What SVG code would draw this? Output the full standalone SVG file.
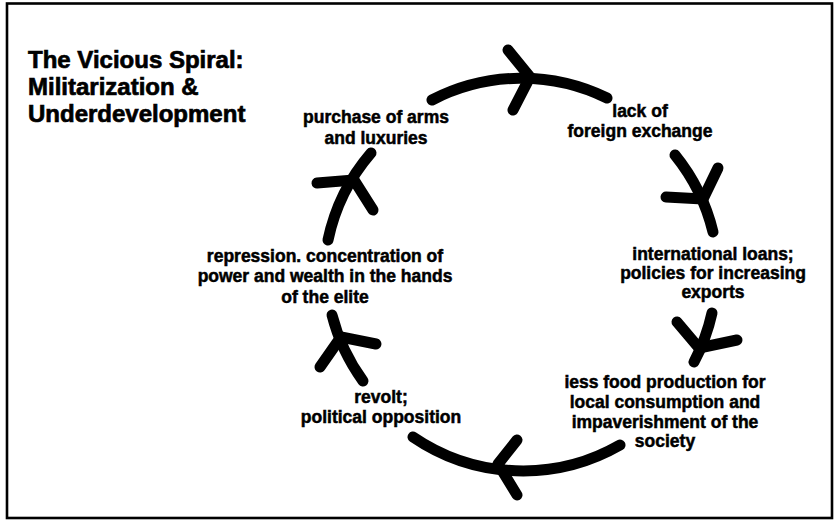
<svg xmlns="http://www.w3.org/2000/svg" width="835" height="523" viewBox="0 0 835 523">
<style>
.bg{fill:#fff}
.frame{fill:none;stroke:#000;stroke-width:2.6}
.title{font-family:"Liberation Sans",Arial,sans-serif;font-weight:bold;font-size:24px;fill:#000;stroke:#000;stroke-width:0.7}
.lbl{font-family:"Liberation Sans",Arial,sans-serif;font-weight:bold;font-size:17.5px;fill:#000;stroke:#000;stroke-width:0.5;text-anchor:middle}
.arc{fill:none;stroke:#000;stroke-width:11;stroke-linecap:round}
.chev{fill:none;stroke:#000;stroke-width:11;stroke-linecap:round;stroke-linejoin:round}
</style>
<rect class="bg" x="0" y="0" width="835" height="523"/>
<rect class="frame" x="7" y="3.5" width="825" height="514.5"/>
<g id="title">
<text class="title" x="28" y="68">The Vicious Spiral:</text>
<text class="title" x="28" y="95">Militarization &amp;</text>
<text class="title" x="28" y="122">Underdevelopment</text>
</g>
<g id="n-purchase">
<text class="lbl" x="376" y="123">purchase of arms</text>
<text class="lbl" x="376" y="144">and luxuries</text>
</g>
<g id="n-lack">
<text class="lbl" x="640" y="117">lack of</text>
<text class="lbl" x="640" y="137">foreign exchange</text>
</g>
<g id="n-loans">
<text class="lbl" x="713" y="260">international loans;</text>
<text class="lbl" x="713" y="279">policies for increasing</text>
<text class="lbl" x="713" y="298">exports</text>
</g>
<g id="n-food">
<text class="lbl" x="665" y="388">iess food production for</text>
<text class="lbl" x="665" y="408">local consumption and</text>
<text class="lbl" x="665" y="428">impaverishment of the</text>
<text class="lbl" x="665" y="447">society</text>
</g>
<g id="n-revolt">
<text class="lbl" x="381" y="403">revolt;</text>
<text class="lbl" x="381" y="423">political opposition</text>
</g>
<g id="n-repression">
<text class="lbl" x="325" y="262">repression. concentration of</text>
<text class="lbl" x="325" y="282">power and wealth in the hands</text>
<text class="lbl" x="325" y="303">of the elite</text>
</g>
<g id="connectors">
<g id="c-top">
<path class="arc" d="M432,100 A195,195 0 0 1 607,98"/>
<polyline class="chev" points="508,50 530,77 513,110"/>
</g>
<g id="c-right-upper">
<path class="arc" d="M675,155 A195,195 0 0 1 713,232"/>
<polyline class="chev" points="666,197 703,199 718,168"/>
</g>
<g id="c-right-lower">
<path class="arc" d="M712,313 A195,195 0 0 1 694,362"/>
<polyline class="chev" points="677,322 699,348 737,340"/>
</g>
<g id="c-bottom">
<path class="arc" d="M620,445 A195,195 0 0 1 413,437"/>
<polyline class="chev" points="517,440 498,464 517,495"/>
</g>
<g id="c-left-lower">
<path class="arc" d="M363,381 A195,195 0 0 1 332,315"/>
<polyline class="chev" points="320,367 341,337 376,344"/>
</g>
<g id="c-left-upper">
<path class="arc" d="M328,240 A195,195 0 0 1 371,153"/>
<polyline class="chev" points="317,183 354,180 373,210"/>
</g>
</g>
</svg>
